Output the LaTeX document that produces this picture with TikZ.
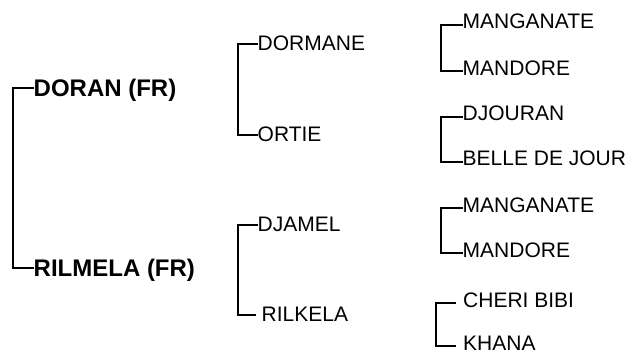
\documentclass[tikz,border=0pt]{standalone}
\usepackage{fontspec}
\setmainfont{Liberation Sans}
\usepackage{tikz}
\usetikzlibrary{positioning}

\begin{document}
\begin{tikzpicture}[
    x=1pt, y=-1pt,
    horse/.style={anchor=west, inner ysep=0pt, inner xsep=0.5pt, text height=15pt, text depth=0pt, font=\fontsize{21}{25}\selectfont},
    parent/.style={horse, text height=17pt, font=\fontsize{24}{28}\selectfont\bfseries},
    gap/.style={inner xsep=#1},
    bracket/.style={line width=2pt, line join=miter, line cap=rect}
]
    \useasboundingbox (0,0) rectangle (633,353);

    % Parents
    \node[parent] (doran) at (33,88) {DORAN (FR)};
    \node[parent] (rilmela) at (33,268) {RILMELA (FR)};

    % Grandparents
    \node[horse] (dormane) at (257,43) {DORMANE};
    \node[horse] (ortie) at (257,134) {ORTIE};
    \node[horse] (djamel) at (257,224) {DJAMEL};
    \node[horse, gap=6.5pt] (rilkela) at (255,314) {RILKELA};

    % Great-grandparents
    \node[horse] (manganate1) at (462,21.5) {MANGANATE};
    \node[horse] (mandore1) at (462,68) {MANDORE};
    \node[horse] (djouran) at (462,113.5) {DJOURAN};
    \node[horse] (belle) at (462,158.5) {BELLE DE JOUR};
    \node[horse] (manganate2) at (462,204.5) {MANGANATE};
    \node[horse] (mandore2) at (462,249.5) {MANDORE};
    \node[horse, gap=8pt] (cheri) at (455,299.5) {CHERI BIBI};
    \node[horse, gap=8pt] (khana) at (455,342.5) {KHANA};

    % Brackets
    \draw[bracket] (doran.west) -- ++(-20,0) |- (rilmela.west);
    \draw[bracket] ([yshift=-1pt]dormane.west) -- ++(-19,0) |- ([yshift=-1pt]ortie.west);
    \draw[bracket] ([yshift=-1pt]djamel.west) -- ++(-19,0) |- ([yshift=-1pt]rilkela.west);
    \draw[bracket] ([yshift=-3.5pt]manganate1.west) -- ++(-21,0) |- ([yshift=-3.5pt]mandore1.west);
    \draw[bracket] ([yshift=-3.5pt]djouran.west) -- ++(-21,0) |- ([yshift=-3.5pt]belle.west);
    \draw[bracket] ([yshift=-3.5pt]manganate2.west) -- ++(-21,0) |- ([yshift=-3.5pt]mandore2.west);
    \draw[bracket] ([yshift=-3pt]cheri.west) -- ++(-19,0) |- ([yshift=-3pt]khana.west);
\end{tikzpicture}
\end{document}
